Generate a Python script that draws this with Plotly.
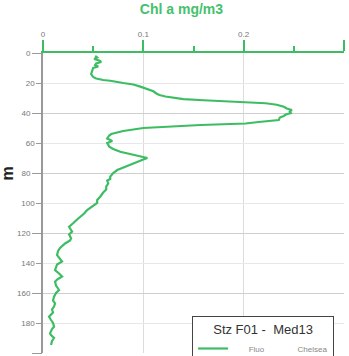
import plotly.graph_objects as go

depth = [2, 3, 4, 5, 6, 7, 8, 9, 10, 12, 14, 16, 17, 18, 18.5, 20, 21, 22.4, 24, 25.5,
         27, 28, 29, 30, 30.7, 31.5, 32.5, 33.5, 34.5, 35.8, 37, 38, 39, 40, 41, 42, 43,
         44.7, 46, 47, 48, 49, 50, 52, 54, 55, 57, 58.7, 60, 62.4, 64, 65.8, 68, 70, 71,
         73.5, 76, 78, 80, 82.4, 84, 85, 87, 89, 91, 93, 95.8, 98, 100, 102, 104.7, 107,
         109, 111, 113.5, 115.8, 117, 119, 121, 123.5, 125, 127, 130, 132, 134.7, 137,
         139, 141, 144.7, 147, 149, 151, 152.5, 155, 158, 160, 162.5, 165, 167, 169, 171,
         173, 175.8, 178, 180, 182.5, 184, 186.9, 188, 190, 192, 194.7]
chl = [0.052, 0.054, 0.051, 0.056, 0.058, 0.053, 0.052, 0.055, 0.050, 0.049, 0.048, 0.050,
       0.053, 0.060, 0.067, 0.080, 0.090, 0.097, 0.103, 0.110, 0.113, 0.116, 0.122, 0.135,
       0.140, 0.160, 0.190, 0.222, 0.233, 0.240, 0.243, 0.248, 0.246, 0.247, 0.242, 0.240,
       0.236, 0.235, 0.215, 0.202, 0.157, 0.125, 0.100, 0.080, 0.068, 0.066, 0.064, 0.069,
       0.064, 0.066, 0.070, 0.077, 0.090, 0.104, 0.100, 0.090, 0.080, 0.074, 0.070, 0.067,
       0.067, 0.064, 0.065, 0.063, 0.063, 0.060, 0.057, 0.054, 0.054, 0.050, 0.044, 0.041,
       0.038, 0.034, 0.030, 0.026, 0.027, 0.029, 0.026, 0.028, 0.027, 0.022, 0.017, 0.015,
       0.014, 0.017, 0.019, 0.014, 0.012, 0.016, 0.019, 0.014, 0.012, 0.013, 0.016, 0.013,
       0.011, 0.010, 0.012, 0.011, 0.009, 0.010, 0.006, 0.008, 0.010, 0.011, 0.009, 0.007,
       0.008, 0.011, 0.009, 0.008]

x_major = [0, 0.1, 0.2, 0.3]
y_labels_minor = [20, 60, 100, 140, 180]
y_labels_major = [0, 40, 80, 120, 160, 200]

GREEN = "#3dbd63"
FONT = "Liberation Sans, Arial, sans-serif"
NB = "\u00a0"

fig = go.Figure()
fig.add_trace(go.Scatter(
    x=chl, y=depth, mode="lines", name=NB * 7 + "Fluo" + NB * 15 + "Chelsea",
    line=dict(color=GREEN, width=2.2), xaxis="x", yaxis="y"))
fig.add_trace(go.Scatter(
    x=chl, y=depth, mode="lines", showlegend=False, hoverinfo="skip",
    line=dict(color="rgba(0,0,0,0)", width=0), xaxis="x", yaxis="y2"))

fig.update_layout(
    width=349, height=356,
    margin=dict(l=43, r=5, t=53, b=3, autoexpand=False),
    paper_bgcolor="white", plot_bgcolor="white",
    font=dict(family=FONT, color="#666"),
    title=dict(text="<b>Chl a mg/m3</b>", x=0.52, xanchor="center", y=0.975, yanchor="middle",
               font=dict(size=14, color="#45c16d", family=FONT)),
    xaxis=dict(side="top", range=[0, 0.3], tickvals=x_major, ticktext=["0", "0.1", "0.2", "0.3"],
               ticks="outside", ticklen=11, tickwidth=1.5, tickcolor=GREEN,
               showline=True, linecolor=GREEN, linewidth=2,
               showgrid=True, gridcolor="#dcdcdc", gridwidth=1, zeroline=False,
               tickfont=dict(size=8, color="#777"),
               minor=dict(tickvals=[0.05, 0.15, 0.25], ticks="outside", ticklen=5,
                          tickcolor=GREEN, showgrid=False)),
    yaxis=dict(range=[200, 0], tickvals=y_labels_minor, ticks="outside", ticklen=5,
               tickcolor="#999", showline=True, linecolor="#999", linewidth=1.5,
               showgrid=True, gridcolor="#e8e8e8", zeroline=False,
               tickfont=dict(size=8, color="#777")),
    yaxis2=dict(range=[200, 0], overlaying="y", side="left", tickvals=y_labels_major,
                ticks="outside", ticklen=10, tickcolor="#999",
                showline=False, showgrid=True, gridcolor="#cfcfcf", zeroline=False,
                tickfont=dict(size=8, color="#777")),
    legend=dict(x=0.967, xanchor="right", y=0.123, yanchor="top",
                bgcolor="white", bordercolor="#444", borderwidth=1,
                title=dict(text="Stz F01 -  Med13", side="top center",
                           font=dict(size=13, color="#333", family=FONT)),
                font=dict(size=8, color="#888", family=FONT),
                itemwidth=30, tracegroupgap=0),
    showlegend=True,
)
fig.add_annotation(text="<b>m</b>", xref="paper", yref="paper", x=-0.118, xanchor="center",
                   y=0.6, yanchor="middle", textangle=-90, showarrow=False,
                   font=dict(size=16, color="#222", family=FONT))

fig.write_html("out.html")
